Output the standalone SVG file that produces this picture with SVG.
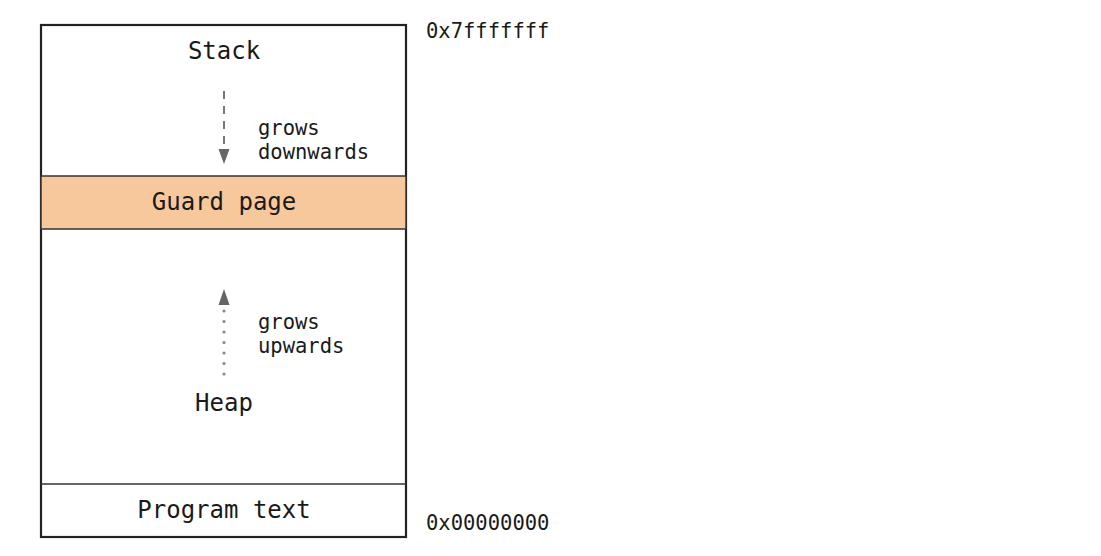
<svg xmlns="http://www.w3.org/2000/svg" width="1101" height="556" viewBox="0 0 1101 556">
<style>
.t{font-family:"DejaVu Sans Mono","Liberation Mono",monospace;fill:#1a1a1a}
.big{font-size:24px}
.sm{font-size:20.5px}
.arr{stroke:#777;stroke-width:2;fill:none}
.dot{fill:#888}
</style>
<rect width="1101" height="556" fill="#fff"/>
<g id="memory">
<rect x="41" y="25" width="365" height="512" fill="#fff" stroke="#222" stroke-width="2.2"/>
</g>
<g id="stack">
<text class="t big" x="224" y="59" text-anchor="middle">Stack</text>
</g>
<g id="guard">
<rect x="41" y="176" width="365" height="53" fill="#f8c89d" stroke="#333" stroke-width="1.5"/>
<text class="t big" x="224" y="210" text-anchor="middle">Guard page</text>
</g>
<g id="heap">
<text class="t big" x="224" y="411" text-anchor="middle">Heap</text>
</g>
<g id="program">
<line x1="41" y1="484" x2="406" y2="484" stroke="#333" stroke-width="1.5"/>
<text class="t big" x="224" y="518" text-anchor="middle">Program text</text>
</g>
<g id="connectors">
<line class="arr" x1="224" y1="91" x2="224" y2="148" stroke-dasharray="8,7"/>
<path d="M218.5,149 L229.5,149 L224,164 z" fill="#666"/>
<g class="dot">
<circle cx="224" cy="311" r="1.6"/>
<circle cx="224" cy="321.5" r="1.6"/>
<circle cx="224" cy="332" r="1.6"/>
<circle cx="224" cy="342.5" r="1.6"/>
<circle cx="224" cy="353" r="1.6"/>
<circle cx="224" cy="363.5" r="1.6"/>
<circle cx="224" cy="374" r="1.6"/>
</g>
<path d="M218.5,305 L229.5,305 L224,289 z" fill="#666"/>
</g>
<g id="labels">
<text class="t sm" x="258" y="135">grows</text>
<text class="t sm" x="258" y="159">downwards</text>
<text class="t sm" x="258" y="329">grows</text>
<text class="t sm" x="258" y="353">upwards</text>
<text class="t sm" x="426" y="38">0x7fffffff</text>
<text class="t sm" x="426" y="530">0x00000000</text>
</g>
</svg>
